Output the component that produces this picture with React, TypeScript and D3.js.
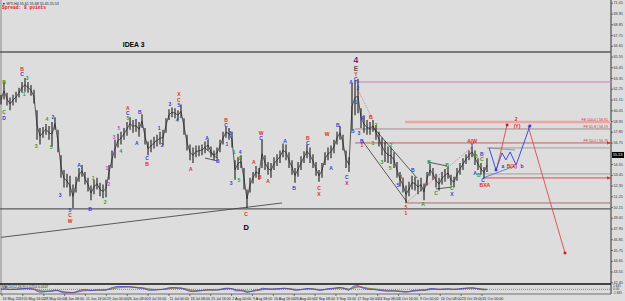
import React, { useEffect } from 'react';
import * as d3 from 'd3';

const W = 625;
const H = 301;

// WTI H4, each entry groups ~4 bars (high / low)
const highs = [
  61.7, 63.0, 61.9, 61.4, 61.7, 62.0, 62.4, 63.0, 63.4, 63.0,
  62.7, 62.2, 60.1, 58.3, 58.4, 58.7, 58.5, 58.9, 59.4, 58.1,
  55.5, 54.0, 53.6, 53.4, 52.5, 53.3, 54.2, 54.5, 53.8, 53.2,
  52.4, 53.0, 53.2, 52.7, 52.5, 53.0, 54.5, 56.0, 57.1, 57.7,
  57.9, 58.3, 58.9, 59.4, 59.1, 59.2, 58.9, 59.7, 58.3, 56.9,
  57.1, 57.4, 57.6, 57.9, 58.1, 59.3, 60.2, 60.4, 60.3, 60.1,
  60.7, 59.3, 57.6, 56.6, 56.3, 56.5, 56.5, 56.6, 56.9, 57.1,
  56.4, 56.0, 56.3, 57.1, 57.9, 58.4, 58.3, 57.9, 55.0, 55.3,
  55.5, 54.2, 52.0, 53.2, 53.8, 54.4, 54.2, 57.1, 55.5, 54.8,
  54.7, 55.3, 55.6, 56.0, 56.7, 56.6, 55.8, 55.0, 54.2, 54.8,
  55.4, 55.9, 56.6, 56.3, 55.6, 54.8, 54.0, 54.7, 55.8, 56.3,
  56.5, 57.1, 57.9, 58.5, 57.6, 56.0, 55.3, 62.9, 63.2, 63.3,
  60.3, 59.6, 59.1, 58.9, 59.1, 58.6, 57.9, 57.3, 56.9, 56.4,
  56.3, 55.8, 54.8, 53.8, 53.2, 52.4, 52.8, 53.4, 53.3, 53.0,
  53.2, 52.6, 53.8, 54.6, 54.2, 53.6, 53.2, 53.8, 54.1, 54.3,
  53.5, 53.3, 54.2, 54.7, 55.2, 55.6, 56.0, 56.4, 56.0, 55.2,
  54.7, 54.3, 55.2,
];
const lows = [
  60.7, 61.2, 60.6, 60.1, 60.6, 60.9, 61.4, 61.9, 62.0, 61.9,
  61.6, 60.8, 57.1, 56.6, 57.3, 57.6, 57.1, 56.4, 58.1, 55.8,
  53.2, 52.2, 52.2, 51.3, 50.1, 51.7, 52.8, 53.3, 52.5, 51.8,
  50.9, 51.5, 52.0, 51.3, 51.1, 51.2, 53.0, 54.2, 55.2, 56.3,
  56.6, 57.1, 57.5, 58.1, 57.8, 57.9, 57.4, 58.3, 56.6, 55.5,
  55.8, 56.2, 56.4, 56.6, 56.5, 57.8, 59.1, 59.4, 59.3, 59.1,
  59.3, 57.6, 56.0, 55.0, 54.7, 55.3, 55.4, 55.5, 55.7, 56.0,
  55.3, 55.0, 55.2, 55.8, 56.6, 57.3, 57.1, 56.3, 53.0, 54.0,
  54.2, 52.0, 50.1, 51.7, 52.6, 53.2, 53.0, 54.2, 54.0, 53.5,
  53.2, 54.0, 54.4, 54.7, 55.3, 55.0, 54.2, 53.5, 52.7, 53.3,
  54.0, 54.7, 55.2, 54.7, 54.2, 53.4, 52.8, 53.2, 54.5, 55.0,
  55.2, 55.7, 56.6, 57.1, 56.0, 54.2, 53.8, 58.1, 59.6, 59.8,
  58.3, 57.8, 57.6, 57.6, 57.9, 57.1, 56.4, 55.5, 54.8, 54.7,
  54.6, 54.2, 53.2, 52.3, 51.7, 50.6, 51.3, 52.0, 51.9, 51.5,
  51.8, 50.9, 52.4, 53.4, 53.0, 52.2, 51.9, 52.5, 52.8, 53.1,
  52.4, 52.2, 52.9, 53.5, 54.0, 54.6, 55.0, 55.3, 54.5, 54.0,
  53.5, 53.2, 53.8,
];

const priceTicks = [
  '71.05', '69.95', '68.85', '67.75', '66.65', '65.55', '64.45', '63.35', '62.25',
  '61.15', '60.05', '58.95', '57.85', '56.75', '55.65', '54.55', '53.45', '52.35',
  '51.25', '50.15', '49.05', '47.95', '46.85', '45.75', '44.65', '43.55', '42.45',
];
const dateTicks = [
  '16 May 2019', '20 May 16:00', '28 May 00:00', '4 Jun 08:00', '11 Jun 16:00', '19 Jun 00:00',
  '26 Jun 08:00', '3 Jul 16:00', '11 Jul 00:00', '18 Jul 08:00', '25 Jul 16:00', '2 Aug 00:00',
  '9 Aug 08:00', '16 Aug 16:00', '26 Aug 00:00', '2 Sep 08:00', '9 Sep 16:00', '17 Sep 00:00',
  '24 Sep 08:00', '1 Oct 16:00', '9 Oct 00:00', '16 Oct 08:00', '23 Oct 16:00', '31 Oct 00:00',
];

const lastPrice = 55.53;

// horizontal levels: [price, from bar index (null = whole chart), kind, caption]
const levels: [number, number | null, string, string][] = [
  [66.07, null, 'frame', ''],
  [63.0, 118.3, 'magenta', ''],
  [58.91, 134.7, 'fe', 'FE 100.0 | 58.91'],
  [58.19, 118, 'fib', 'FE 61.8 | 58.19'],
  [56.76, 118, 'fibred', 'FE 50.0 | 56.76'],
  [56.25, 162, 'gray', ''],
  [53.59, 160.7, 'gray', ''],
  [53.18, 160.7, 'red', ''],
  [50.62, 135.3, 'brown', ''],
  [50.01, null, 'frame', ''],
];

// drawn segments: [idx1, price1, idx2, price2, kind]
const segments: [number, number, number, number, string][] = [
  [0, 47.1, 93.7, 50.62, 'trend'],
  [120.3, 57.05, 135.3, 50.72, 'trend'],
  [124, 58.39, 138.7, 53.17, 'trend'],
  [68, 56.24, 72.3, 55.12, 'trend'],
  [68, 55.22, 72.3, 54.91, 'trend'],
  [142.3, 54.81, 148.7, 54.4, 'trend'],
  [145, 52.05, 150.3, 52.25, 'trend'],
  [119, 62.18, 124, 59.11, 'dot'],
  [135, 50.62, 157, 56.35, 'dot'],
  [162.7, 56.25, 171.3, 56.04, 'boxgray'],
  [160.7, 53.18, 171.3, 54.41, 'boxblue'],
  [165.3, 54.2, 168.7, 58.6, 'proj'],
  [175.7, 58.5, 188, 45.5, 'proj'],
];

// projected path (blue)
const pathIdx = [162.7, 165, 167, 168.3, 169.7, 171.7, 176.3];
const pathPrice = [56.25, 54.0, 55.74, 55.02, 55.84, 54.51, 58.5];

// wave labels: [idx, price, text, degree]
const waves: [number, number, string, string][] = [
  [1, 63.0, 'B', 'g'], [1, 59.9, 'C', 'g'], [1, 59.3, 'D', 'b'],
  [7, 64.3, 'B', 'r'], [7, 63.8, 'C', 'b'], [7.7, 61.8, '1', 'g'], [8.7, 63.4, '3', 'g'],
  [11.7, 56.4, '3', 'g'], [15.3, 59.2, '4', 'g'], [16.7, 56.3, '5', 'g'], [17.3, 59.4, '2', 'b'],
  [19.7, 51.4, '3', 'b'], [23, 49.9, '5', 'b'], [23, 49.4, 'C', 'r'], [23, 48.8, 'W', 'r'],
  [26, 54.5, 'A', 'b'], [29.7, 50.0, 'B', 'b'], [30.7, 53.2, '1', 'g'], [34.7, 50.7, '2', 'g'],
  [35.3, 54.2, '1', 'm'], [36, 52.6, '2', 'm'], [37.7, 57.4, '3', 'm'], [39.3, 58.3, '5', 'm'],
  [38, 55.8, '4', 'm'], [40, 55.9, '4', 'g'],
  [42.3, 60.3, 'A', 'r'], [42.3, 59.8, 'C', 'b'], [42.3, 59.3, '5', 'g'],
  [46.3, 59.9, 'B', 'b'], [45.3, 56.8, 'A', 'b'], [48.7, 55.2, 'C', 'b'], [48.7, 54.6, 'B', 'r'],
  [52.7, 58.3, '1', 'b'], [53.7, 56.5, '2', 'b'], [56.3, 60.7, '3', 'b'], [58.7, 59.1, '4', 'b'],
  [59.3, 61.8, 'X', 'r'], [59.3, 61.2, 'C', 'r'], [59.3, 60.6, '5', 'b'], [63.3, 54.1, 'A', 'r'],
  [68.7, 57.3, 'A', 'b'], [72.3, 54.9, 'B', 'b'], [75, 59.1, 'B', 'r'], [75, 58.6, 'C', 'b'],
  [76.3, 57.8, '3', 'b'], [75.3, 56.7, '1', 'b'], [76.7, 52.7, '3', 'b'],
  [79.7, 55.8, '4', 'b'], [79.7, 55.2, 'C', 'g'], [77.7, 55.8, '1', 'g'], [79.3, 53.0, '5', 'g'],
  [81.7, 49.5, 'C', 'r'], [81.7, 48.1, 'D', 'k'],
  [84.3, 54.8, 'A', 'r'], [86.3, 53.3, 'B', 'r'], [86.7, 57.8, 'W', 'r'], [86.7, 57.3, 'C', 'b'],
  [89, 52.9, 'A', 'r'], [94.7, 57.0, 'A', 'b'], [97.7, 52.2, 'B', 'b'],
  [102.3, 57.3, 'B', 'r'], [102.3, 56.8, 'C', 'b'], [106, 52.2, 'C', 'r'], [106, 51.5, 'X', 'r'],
  [108.7, 57.7, 'W', 'r'], [110, 54.2, 'A', 'b'], [112.3, 58.6, 'B', 'b'],
  [115.3, 53.3, 'C', 'b'], [115.3, 52.7, 'X', 'r'],
  [116.7, 63.0, 'A', 'b'], [117.3, 58.0, 'B', 'b'], [118.3, 63.3, 'C', 'b'], [118.3, 63.8, 'Y', 'r'],
  [118.3, 64.4, 'E', 'e'], [118.3, 65.2, '4', 'p'],
  [119, 62.4, '2', 'b'], [118.3, 60.9, '1', 'b'], [120.3, 59.3, '4', 'b'], [119.3, 57.8, '3', 'b'],
  [120.3, 57.0, 'B', 'b'], [120.3, 56.5, '1', 'r'], [123.3, 59.4, 'B', 'r'],
  [125, 58.6, '2', 'g'], [124, 56.8, '1', 'g'], [127, 54.8, '3', 'g'], [130, 56.6, '2', 'g'],
  [129.7, 54.2, '5', 'g'], [133.3, 53.3, '4', 'r'], [132.3, 52.5, '5', 'b'],
  [135, 50.2, '5', 'r'], [135, 49.6, '1', 'r'], [137.3, 54.0, 'B', 'b'],
  [140.7, 50.5, 'A', 'g'], [142.7, 54.8, 'B', 'g'], [145, 51.6, 'C', 'g'], [148.7, 54.5, 'B', 'g'],
  [150.3, 52.1, 'C', 'g'], [150.3, 51.5, 'X', 'b'],
  [157, 57.0, 'A/W', 'r'], [157, 56.5, 'Y', 'b'], [158.3, 55.4, 'B', 'g'], [158, 53.7, 'A', 'b'],
  [159.3, 53.5, 'B', 'g'], [160.3, 55.6, 'B', 'b'], [160.3, 55.1, 'C', 'g'], [160.7, 53.0, 'C', 'b'],
  [161.3, 52.5, 'BXA', 'r'],
  [167.3, 54.4, 'a', 'b'], [170.3, 54.4, 'B(X)', 'r'], [173.7, 54.4, 'b', 'b'],
  [172, 58.5, '(Y)', 'r'], [171.7, 59.2, '2', 'r'],
];

const waveColor: Record<string, string> = {
  b: '#2f3fd6', r: '#e42a2a', g: '#27a027', m: '#d23cd2', p: '#7d1f86', e: '#555', k: '#000',
};
const waveSize: Record<string, number> = { p: 8.5, e: 6.5, k: 7.5 };

const levelStyle: Record<string, [string, number]> = {
  frame: ['#5a5a5a', 1.4],
  magenta: ['#c77cc7', 1],
  fe: ['#eda4a4', 2.6],
  fib: ['#a48a8a', 1],
  fibred: ['#b46262', 1],
  gray: ['#a0a0a0', 1],
  red: ['#e24a4a', 1],
  brown: ['#a87070', 1],
};

const ema = (arr: number[], n: number) => {
  const k = 2 / (n + 1);
  let prev = arr[0];
  return arr.map((v) => (prev = prev + k * (v - prev)));
};

export default function App() {
  useEffect(() => {
    document.body.style.margin = '0';
  }, []);

  const plotRight = 611;
  const mainBottom = 284;
  const x = d3.scaleLinear().domain([0, highs.length - 1]).range([1, 487]);
  const y = d3.scaleLinear().domain([71.05, 42.45]).range([3.3, 282.8]);
  const xd = d3.scalePoint<string>().domain(dateTicks).range([2, 482]);

  const mids = highs.map((h, i) => (h + lows[i]) / 2);
  const fast = ema(mids, 3);
  const slow = ema(mids, 7);
  const macd = fast.map((v, i) => v - slow[i]);
  const signal = ema(macd, 3);
  const hist = ema(macd, 6);
  const ext = d3.max(macd, (v) => Math.abs(v)) as number;
  const yi = d3.scaleLinear().domain([-ext, ext]).range([293, 285.6]);

  const midLine = d3.line<number>().x((_, i) => x(i)).y((v) => y(v))(mids) || '';
  const indLine = (arr: number[]) => d3.line<number>().x((_, i) => x(i)).y((v) => yi(v))(arr) || '';
  const projPath = d3.line<number>().x((v) => x(v)).y((_, i) => y(pathPrice[i]))(pathIdx) || '';

  const lastY = y(lastPrice);
  const segStyle: Record<string, { stroke: string; w: number; dash?: string }> = {
    trend: { stroke: '#4a4a4a', w: 0.9 },
    dot: { stroke: '#e07070', w: 0.9, dash: '1.2,1.2' },
    boxgray: { stroke: '#8c8ca8', w: 0.9 },
    boxblue: { stroke: '#6070d0', w: 0.9 },
    proj: { stroke: '#e04848', w: 0.9 },
  };

  const font = 'Liberation Sans, Arial, sans-serif';

  return (
    <div style={{ position: 'absolute', left: 0, top: 0 }}>
      <svg width={W} height={H} style={{ display: 'block', background: '#dddddd' }}>
        {/* frame */}
        <line x1={1} x2={1} y1={0} y2={294} stroke="#8a8a8a" />
        <line x1={plotRight} x2={plotRight} y1={0} y2={294} stroke="#333" />
        <line x1={0} x2={plotRight} y1={mainBottom} y2={mainBottom} stroke="#111" strokeWidth={1.6} />
        <line x1={0} x2={plotRight} y1={294} y2={294} stroke="#555" strokeWidth={0.8} />

        {/* horizontal levels */}
        {levels.map(([p, from, kind, cap], i) => {
          const [c, w] = levelStyle[kind];
          const x0 = from === null ? 0 : x(from);
          return (
            <g key={'lv' + i}>
              <line x1={x0} x2={plotRight} y1={y(p)} y2={y(p)} stroke={c} strokeWidth={w} />
              {cap && (
                <text x={plotRight - 3} y={y(p) - 1.2} fontSize={3.6} fill="#d43a3a" textAnchor="end" fontFamily={font}>
                  {cap}
                </text>
              )}
            </g>
          );
        })}
        {[56.76, 53.18].map((p) => (
          <path key={'ar' + p} d={`M${plotRight - 4},${y(p) - 1.6}L${plotRight},${y(p)}L${plotRight - 4},${y(p) + 1.6}Z`} fill="#e23030" />
        ))}

        {/* drawn objects */}
        {segments.map(([i1, p1, i2, p2, kind], i) => {
          const s = segStyle[kind];
          return (
            <line key={'sg' + i} x1={x(i1)} y1={y(p1)} x2={x(i2)} y2={y(p2)} stroke={s.stroke}
              strokeWidth={s.w} strokeDasharray={s.dash} />
          );
        })}

        {/* price bars */}
        <path d={midLine} fill="none" stroke="#333" strokeWidth={0.8} />
        {highs.map((h, i) => (
          <line key={'b' + i} x1={x(i)} x2={x(i)} y1={y(h)} y2={y(lows[i])} stroke="#262626" strokeWidth={1.15} />
        ))}

        {/* projection */}
        <path d={projPath} fill="none" stroke="#3a4ee0" strokeWidth={1} />
        {[[165, 54.0], [176.3, 58.5]].map(([i, p], k) => (
          <rect key={'pb' + k} x={x(i) - 1.3} y={y(p) - 1.3} width={2.6} height={2.6} fill="#2f3fd6" />
        ))}
        {[[168.7, 58.6], [188, 45.5]].map(([i, p], k) => (
          <rect key={'pr' + k} x={x(i) - 1.3} y={y(p) - 1.3} width={2.6} height={2.6} fill="#c42020" />
        ))}

        {/* wave labels */}
        {waves.map(([i, p, t, d], k) => (
          <text key={'w' + k} x={x(i)} y={y(p)} fontSize={waveSize[d] || 5} fontWeight="bold"
            fill={waveColor[d]} textAnchor="middle" dominantBaseline="central" fontFamily={font}>
            {t}
          </text>
        ))}
        <text x={x(44.2)} y={y(66.8)} fontSize={6.8} fontWeight="bold" textAnchor="middle"
          dominantBaseline="central" fontFamily={font} fill="#000">
          IDEA 3
        </text>

        {/* header */}
        <text x={2} y={4.6} fontSize={3.6} fontFamily={font} fill="#222">▼ WTI,H4 55.61 55.68 55.45 55.53</text>
        <text x={2} y={9} fontSize={4.6} fontWeight="bold" fontFamily="Liberation Mono, monospace" fill="#e02020">
          Spread: 8 points
        </text>

        {/* price axis */}
        {priceTicks.filter((t) => Math.abs(y(+t) - lastY) > 5).map((t) => (
          <g key={'pt' + t}>
            <line x1={plotRight} x2={plotRight + 2} y1={y(+t)} y2={y(+t)} stroke="#333" strokeWidth={0.6} />
            <text x={plotRight + 2.5} y={y(+t)} fontSize={3.7} fontFamily={font} fill="#333" dominantBaseline="central">
              {t}
            </text>
          </g>
        ))}
        <rect x={plotRight + 1} y={lastY - 3} width={12} height={6} fill="#000" />
        <text x={plotRight + 2} y={lastY} fontSize={3.8} fontFamily={font} fill="#fff" dominantBaseline="central">
          {lastPrice.toFixed(2)}
        </text>

        {/* indicator panel */}
        <line x1={1} x2={plotRight} y1={yi(0)} y2={yi(0)} stroke="#444" strokeWidth={0.6} strokeDasharray="1,1" />
        <path d={indLine(hist)} fill="none" stroke="#2a9a2a" strokeWidth={0.7} />
        <path d={indLine(signal)} fill="none" stroke="#e03a3a" strokeWidth={0.7} />
        <path d={indLine(macd)} fill="none" stroke="#3a4ee0" strokeWidth={0.8} />
        <text x={2} y={288} fontSize={3.4} fontFamily={font} fill="#222">MACD(12,26,9) 0.0214 0.0167</text>
        {[ext, 0, -ext].map((v, k) => (
          <text key={'iv' + k} x={plotRight + 2} y={yi(v)} fontSize={3.2} fontFamily={font} fill="#333" dominantBaseline="central">
            {v === 0 ? '0.00' : v.toFixed(3)}
          </text>
        ))}

        {/* date axis */}
        {dateTicks.map((t) => (
          <g key={'dt' + t}>
            <line x1={xd(t)} x2={xd(t)} y1={294} y2={296} stroke="#333" strokeWidth={0.6} />
            <text x={(xd(t) as number) + 0.6} y={299.6} fontSize={3.6} fontFamily={font} fill="#222">
              {t}
            </text>
          </g>
        ))}
      </svg>
    </div>
  );
}
